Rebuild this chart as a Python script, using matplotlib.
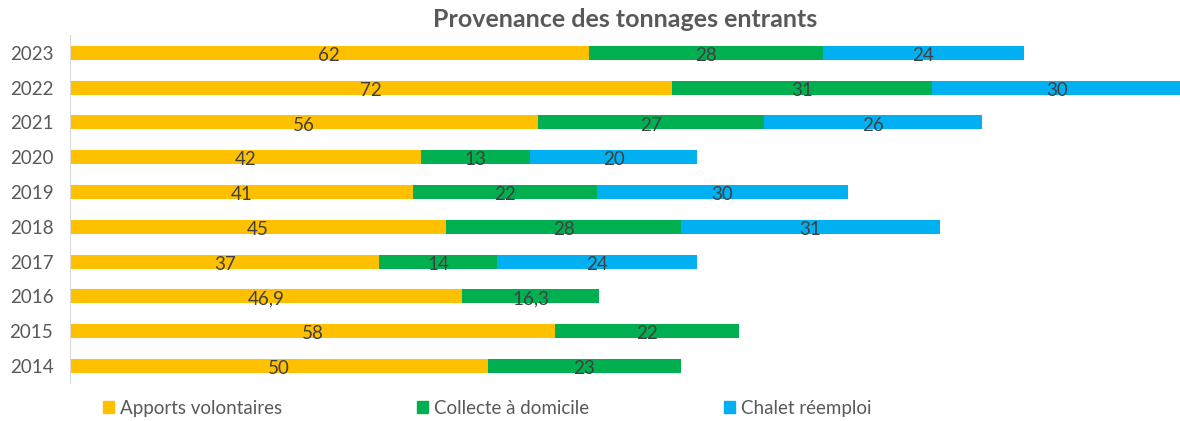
import numpy as np
import matplotlib.pyplot as plt
from matplotlib.patches import Patch

plt.rcParams['font.family'] = ['Lato', 'DejaVu Sans']

years = ['2014', '2015', '2016', '2017', '2018', '2019', '2020', '2021', '2022', '2023']
apports = [50, 58, 46.9, 37, 45, 41, 42, 56, 72, 62]
collecte = [23, 22, 16.3, 14, 28, 22, 13, 27, 31, 28]
chalet = [0, 0, 0, 24, 31, 30, 20, 26, 30, 24]

series = [
    ('Apports volontaires', apports, '#FFC000'),
    ('Collecte à domicile', collecte, '#00B050'),
    ('Chalet réemploi', chalet, '#00B0F0'),
]

fig = plt.figure(figsize=(11.8, 4.21), dpi=100)
ax = fig.add_axes([0.0593, 0.0893, 0.9407, 0.8266])

y = np.arange(len(years))
left = np.zeros(len(years))
for name, vals, col in series:
    vals = np.array(vals, dtype=float)
    ax.barh(y, vals, left=left, height=0.4, color=col, label=name)
    for yi, (l, v) in enumerate(zip(left, vals)):
        if v > 0:
            txt = ('%g' % v).replace('.', ',')
            ax.text(l + v / 2, yi - 0.08, txt, ha='center', va='center',
                    fontsize=13.5, color='#404040')
    left += vals

ax.set_xlim(0, 132.7)
ax.set_ylim(-0.5, len(years) - 0.5)
ax.set_yticks(y)
ax.set_yticklabels(years, fontsize=13.5, color='#595959')
ax.set_xticks([])
ax.tick_params(axis='y', length=0, pad=12)
for s in ['top', 'right', 'bottom']:
    ax.spines[s].set_visible(False)
ax.spines['left'].set_color('#D9D9D9')

ax.set_title('Provenance des tonnages entrants', fontsize=18, fontweight='bold',
             color='#595959', pad=6)

handles = [Patch(color=c, label=n) for n, _, c in series]
fig.legend(handles=handles, loc='center', bbox_to_anchor=(0.413, 0.03), ncol=3,
           frameon=False, fontsize=13.5, handlelength=0.6, handleheight=0.6,
           handletextpad=0.3, columnspacing=7.2, labelcolor='#595959')

fig.savefig('out.png', dpi=100)
